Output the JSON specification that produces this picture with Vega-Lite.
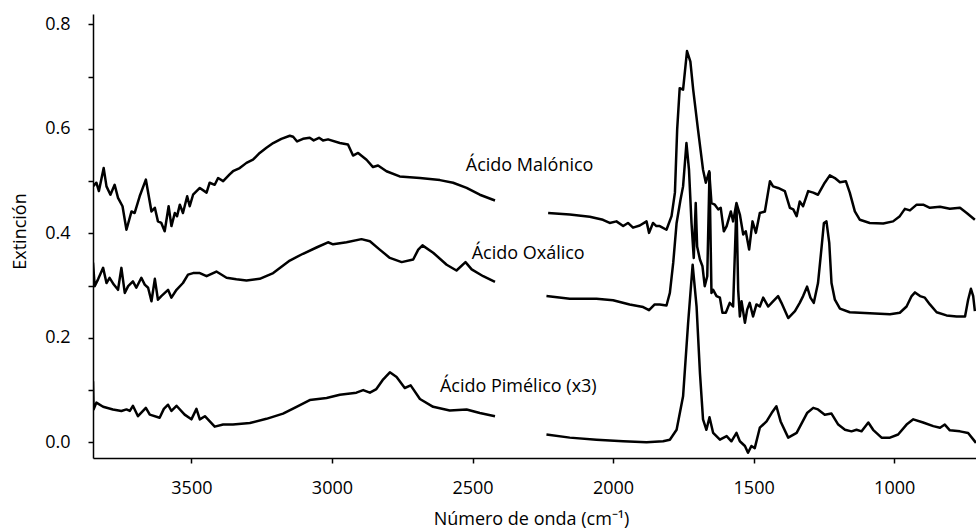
{
  "$schema": "https://vega.github.io/schema/vega-lite/v6.json",
  "width": 883,
  "height": 444,
  "autosize": {"type": "none"},
  "padding": {"left": 93, "top": 14, "right": 0, "bottom": 70},
  "background": "white",
  "config": {
    "view": {"stroke": null},
    "font": "Open Sans",
    "axis": {
      "grid": false,
      "domainColor": "black",
      "domainWidth": 1.5,
      "tickColor": "black",
      "tickWidth": 1.5,
      "tickSize": 5,
      "labelFont": "Open Sans",
      "labelFontSize": 18,
      "labelColor": "black",
      "titleFont": "Open Sans",
      "titleFontSize": 18,
      "titleFontWeight": "normal",
      "titleColor": "black"
    }
  },
  "layer": [
    {
      "data": {
        "values": [
          {"s":"Malónico","t":1,"wn":3850,"e":0.490},{"s":"Malónico","t":1,"wn":3838,"e":0.497},{"s":"Malónico","t":1,"wn":3829,"e":0.481},{"s":"Malónico","t":1,"wn":3812,"e":0.525},{"s":"Malónico","t":1,"wn":3802,"e":0.490},{"s":"Malónico","t":1,"wn":3788,"e":0.474},{"s":"Malónico","t":1,"wn":3773,"e":0.493},{"s":"Malónico","t":1,"wn":3761,"e":0.468},{"s":"Malónico","t":1,"wn":3745,"e":0.452},{"s":"Malónico","t":1,"wn":3731,"e":0.407},{"s":"Malónico","t":1,"wn":3713,"e":0.442},{"s":"Malónico","t":1,"wn":3702,"e":0.439},{"s":"Malónico","t":1,"wn":3684,"e":0.471},{"s":"Malónico","t":1,"wn":3662,"e":0.503},{"s":"Malónico","t":1,"wn":3642,"e":0.442},{"s":"Malónico","t":1,"wn":3630,"e":0.449},{"s":"Malónico","t":1,"wn":3619,"e":0.423},{"s":"Malónico","t":1,"wn":3607,"e":0.420},{"s":"Malónico","t":1,"wn":3595,"e":0.404},{"s":"Malónico","t":1,"wn":3581,"e":0.452},{"s":"Malónico","t":1,"wn":3571,"e":0.414},{"s":"Malónico","t":1,"wn":3559,"e":0.439},{"s":"Malónico","t":1,"wn":3551,"e":0.433},{"s":"Malónico","t":1,"wn":3541,"e":0.455},{"s":"Malónico","t":1,"wn":3530,"e":0.439},{"s":"Malónico","t":1,"wn":3515,"e":0.471},{"s":"Malónico","t":1,"wn":3506,"e":0.452},{"s":"Malónico","t":1,"wn":3494,"e":0.474},{"s":"Malónico","t":1,"wn":3470,"e":0.487},{"s":"Malónico","t":1,"wn":3446,"e":0.478},{"s":"Malónico","t":1,"wn":3435,"e":0.497},{"s":"Malónico","t":1,"wn":3417,"e":0.493},{"s":"Malónico","t":1,"wn":3405,"e":0.506},{"s":"Malónico","t":1,"wn":3387,"e":0.500},{"s":"Malónico","t":1,"wn":3364,"e":0.513},{"s":"Malónico","t":1,"wn":3352,"e":0.519},{"s":"Malónico","t":1,"wn":3328,"e":0.525},{"s":"Malónico","t":1,"wn":3304,"e":0.535},{"s":"Malónico","t":1,"wn":3281,"e":0.541},{"s":"Malónico","t":1,"wn":3257,"e":0.554},{"s":"Malónico","t":1,"wn":3233,"e":0.564},{"s":"Malónico","t":1,"wn":3209,"e":0.573},{"s":"Malónico","t":1,"wn":3180,"e":0.581},{"s":"Malónico","t":1,"wn":3150,"e":0.587},{"s":"Malónico","t":1,"wn":3138,"e":0.585},{"s":"Malónico","t":1,"wn":3124,"e":0.576},{"s":"Malónico","t":1,"wn":3103,"e":0.581},{"s":"Malónico","t":1,"wn":3079,"e":0.583},{"s":"Malónico","t":1,"wn":3065,"e":0.578},{"s":"Malónico","t":1,"wn":3046,"e":0.583},{"s":"Malónico","t":1,"wn":3032,"e":0.578},{"s":"Malónico","t":1,"wn":3014,"e":0.580},{"s":"Malónico","t":1,"wn":2972,"e":0.573},{"s":"Malónico","t":1,"wn":2943,"e":0.570},{"s":"Malónico","t":1,"wn":2925,"e":0.549},{"s":"Malónico","t":1,"wn":2907,"e":0.554},{"s":"Malónico","t":1,"wn":2877,"e":0.541},{"s":"Malónico","t":1,"wn":2854,"e":0.527},{"s":"Malónico","t":1,"wn":2836,"e":0.530},{"s":"Malónico","t":1,"wn":2806,"e":0.519},{"s":"Malónico","t":1,"wn":2759,"e":0.509},{"s":"Malónico","t":1,"wn":2687,"e":0.506},{"s":"Malónico","t":1,"wn":2616,"e":0.502},{"s":"Malónico","t":1,"wn":2569,"e":0.497},{"s":"Malónico","t":1,"wn":2521,"e":0.487},{"s":"Malónico","t":1,"wn":2474,"e":0.474},{"s":"Malónico","t":1,"wn":2420,"e":0.463},

          {"s":"Malónico","t":2,"wn":2231,"e":0.439},{"s":"Malónico","t":2,"wn":2154,"e":0.436},{"s":"Malónico","t":2,"wn":2083,"e":0.432},{"s":"Malónico","t":2,"wn":2036,"e":0.426},{"s":"Malónico","t":2,"wn":2012,"e":0.420},{"s":"Malónico","t":2,"wn":1988,"e":0.423},{"s":"Malónico","t":2,"wn":1964,"e":0.414},{"s":"Malónico","t":2,"wn":1947,"e":0.420},{"s":"Malónico","t":2,"wn":1929,"e":0.411},{"s":"Malónico","t":2,"wn":1905,"e":0.415},{"s":"Malónico","t":2,"wn":1881,"e":0.423},{"s":"Malónico","t":2,"wn":1872,"e":0.401},{"s":"Malónico","t":2,"wn":1858,"e":0.420},{"s":"Malónico","t":2,"wn":1846,"e":0.414},{"s":"Malónico","t":2,"wn":1834,"e":0.414},{"s":"Malónico","t":2,"wn":1810,"e":0.407},{"s":"Malónico","t":2,"wn":1792,"e":0.433},{"s":"Malónico","t":2,"wn":1780,"e":0.478},{"s":"Malónico","t":2,"wn":1772,"e":0.599},{"s":"Malónico","t":2,"wn":1763,"e":0.678},{"s":"Malónico","t":2,"wn":1751,"e":0.675},{"s":"Malónico","t":2,"wn":1737,"e":0.749},{"s":"Malónico","t":2,"wn":1725,"e":0.729},{"s":"Malónico","t":2,"wn":1715,"e":0.675},{"s":"Malónico","t":2,"wn":1698,"e":0.599},{"s":"Malónico","t":2,"wn":1680,"e":0.522},{"s":"Malónico","t":2,"wn":1670,"e":0.497},{"s":"Malónico","t":2,"wn":1658,"e":0.519},{"s":"Malónico","t":2,"wn":1650,"e":0.458},{"s":"Malónico","t":2,"wn":1638,"e":0.455},{"s":"Malónico","t":2,"wn":1626,"e":0.446},{"s":"Malónico","t":2,"wn":1617,"e":0.449},{"s":"Malónico","t":2,"wn":1606,"e":0.404},{"s":"Malónico","t":2,"wn":1596,"e":0.414},{"s":"Malónico","t":2,"wn":1581,"e":0.442},{"s":"Malónico","t":2,"wn":1573,"e":0.423},{"s":"Malónico","t":2,"wn":1561,"e":0.458},{"s":"Malónico","t":2,"wn":1549,"e":0.436},{"s":"Malónico","t":2,"wn":1537,"e":0.398},{"s":"Malónico","t":2,"wn":1528,"e":0.404},{"s":"Malónico","t":2,"wn":1516,"e":0.369},{"s":"Malónico","t":2,"wn":1504,"e":0.423},{"s":"Malónico","t":2,"wn":1492,"e":0.401},{"s":"Malónico","t":2,"wn":1478,"e":0.439},{"s":"Malónico","t":2,"wn":1460,"e":0.442},{"s":"Malónico","t":2,"wn":1442,"e":0.500},{"s":"Malónico","t":2,"wn":1431,"e":0.490},{"s":"Malónico","t":2,"wn":1413,"e":0.487},{"s":"Malónico","t":2,"wn":1389,"e":0.481},{"s":"Malónico","t":2,"wn":1371,"e":0.449},{"s":"Malónico","t":2,"wn":1359,"e":0.446},{"s":"Malónico","t":2,"wn":1347,"e":0.433},{"s":"Malónico","t":2,"wn":1336,"e":0.461},{"s":"Malónico","t":2,"wn":1324,"e":0.452},{"s":"Malónico","t":2,"wn":1306,"e":0.481},{"s":"Malónico","t":2,"wn":1288,"e":0.478},{"s":"Malónico","t":2,"wn":1271,"e":0.474},{"s":"Malónico","t":2,"wn":1247,"e":0.497},{"s":"Malónico","t":2,"wn":1229,"e":0.511},{"s":"Malónico","t":2,"wn":1211,"e":0.506},{"s":"Malónico","t":2,"wn":1193,"e":0.498},{"s":"Malónico","t":2,"wn":1172,"e":0.500},{"s":"Malónico","t":2,"wn":1158,"e":0.478},{"s":"Malónico","t":2,"wn":1140,"e":0.442},{"s":"Malónico","t":2,"wn":1122,"e":0.426},{"s":"Malónico","t":2,"wn":1087,"e":0.420},{"s":"Malónico","t":2,"wn":1039,"e":0.419},{"s":"Malónico","t":2,"wn":1004,"e":0.423},{"s":"Malónico","t":2,"wn":980,"e":0.433},{"s":"Malónico","t":2,"wn":962,"e":0.447},{"s":"Malónico","t":2,"wn":944,"e":0.444},{"s":"Malónico","t":2,"wn":920,"e":0.455},{"s":"Malónico","t":2,"wn":897,"e":0.455},{"s":"Malónico","t":2,"wn":873,"e":0.449},{"s":"Malónico","t":2,"wn":837,"e":0.451},{"s":"Malónico","t":2,"wn":802,"e":0.447},{"s":"Malónico","t":2,"wn":766,"e":0.449},{"s":"Malónico","t":2,"wn":742,"e":0.439},{"s":"Malónico","t":2,"wn":713,"e":0.426},

          {"s":"Oxálico","t":1,"wn":3850,"e":0.344},{"s":"Oxálico","t":1,"wn":3844,"e":0.299},{"s":"Oxálico","t":1,"wn":3832,"e":0.312},{"s":"Oxálico","t":1,"wn":3814,"e":0.334},{"s":"Oxálico","t":1,"wn":3802,"e":0.305},{"s":"Oxálico","t":1,"wn":3791,"e":0.315},{"s":"Oxálico","t":1,"wn":3776,"e":0.302},{"s":"Oxálico","t":1,"wn":3761,"e":0.292},{"s":"Oxálico","t":1,"wn":3749,"e":0.334},{"s":"Oxálico","t":1,"wn":3737,"e":0.286},{"s":"Oxálico","t":1,"wn":3725,"e":0.299},{"s":"Oxálico","t":1,"wn":3708,"e":0.308},{"s":"Oxálico","t":1,"wn":3696,"e":0.296},{"s":"Oxálico","t":1,"wn":3678,"e":0.315},{"s":"Oxálico","t":1,"wn":3666,"e":0.302},{"s":"Oxálico","t":1,"wn":3654,"e":0.296},{"s":"Oxálico","t":1,"wn":3642,"e":0.270},{"s":"Oxálico","t":1,"wn":3630,"e":0.313},{"s":"Oxálico","t":1,"wn":3619,"e":0.273},{"s":"Oxálico","t":1,"wn":3607,"e":0.280},{"s":"Oxálico","t":1,"wn":3583,"e":0.292},{"s":"Oxálico","t":1,"wn":3571,"e":0.277},{"s":"Oxálico","t":1,"wn":3553,"e":0.292},{"s":"Oxálico","t":1,"wn":3530,"e":0.305},{"s":"Oxálico","t":1,"wn":3512,"e":0.321},{"s":"Oxálico","t":1,"wn":3494,"e":0.324},{"s":"Oxálico","t":1,"wn":3470,"e":0.324},{"s":"Oxálico","t":1,"wn":3446,"e":0.318},{"s":"Oxálico","t":1,"wn":3411,"e":0.327},{"s":"Oxálico","t":1,"wn":3375,"e":0.315},{"s":"Oxálico","t":1,"wn":3340,"e":0.312},{"s":"Oxálico","t":1,"wn":3304,"e":0.310},{"s":"Oxálico","t":1,"wn":3257,"e":0.313},{"s":"Oxálico","t":1,"wn":3209,"e":0.324},{"s":"Oxálico","t":1,"wn":3150,"e":0.348},{"s":"Oxálico","t":1,"wn":3103,"e":0.361},{"s":"Oxálico","t":1,"wn":3055,"e":0.373},{"s":"Oxálico","t":1,"wn":3014,"e":0.383},{"s":"Oxálico","t":1,"wn":2996,"e":0.379},{"s":"Oxálico","t":1,"wn":2948,"e":0.383},{"s":"Oxálico","t":1,"wn":2895,"e":0.389},{"s":"Oxálico","t":1,"wn":2865,"e":0.385},{"s":"Oxálico","t":1,"wn":2830,"e":0.369},{"s":"Oxálico","t":1,"wn":2794,"e":0.353},{"s":"Oxálico","t":1,"wn":2752,"e":0.345},{"s":"Oxálico","t":1,"wn":2711,"e":0.350},{"s":"Oxálico","t":1,"wn":2693,"e":0.369},{"s":"Oxálico","t":1,"wn":2678,"e":0.377},{"s":"Oxálico","t":1,"wn":2640,"e":0.363},{"s":"Oxálico","t":1,"wn":2592,"e":0.340},{"s":"Oxálico","t":1,"wn":2557,"e":0.329},{"s":"Oxálico","t":1,"wn":2525,"e":0.345},{"s":"Oxálico","t":1,"wn":2503,"e":0.331},{"s":"Oxálico","t":1,"wn":2462,"e":0.318},{"s":"Oxálico","t":1,"wn":2420,"e":0.307},

          {"s":"Oxálico","t":2,"wn":2237,"e":0.280},{"s":"Oxálico","t":2,"wn":2154,"e":0.275},{"s":"Oxálico","t":2,"wn":2059,"e":0.275},{"s":"Oxálico","t":2,"wn":2000,"e":0.272},{"s":"Oxálico","t":2,"wn":1941,"e":0.264},{"s":"Oxálico","t":2,"wn":1893,"e":0.259},{"s":"Oxálico","t":2,"wn":1872,"e":0.253},{"s":"Oxálico","t":2,"wn":1852,"e":0.264},{"s":"Oxálico","t":2,"wn":1834,"e":0.264},{"s":"Oxálico","t":2,"wn":1810,"e":0.262},{"s":"Oxálico","t":2,"wn":1798,"e":0.286},{"s":"Oxálico","t":2,"wn":1786,"e":0.344},{"s":"Oxálico","t":2,"wn":1774,"e":0.420},{"s":"Oxálico","t":2,"wn":1760,"e":0.465},{"s":"Oxálico","t":2,"wn":1751,"e":0.490},{"s":"Oxálico","t":2,"wn":1739,"e":0.573},{"s":"Oxálico","t":2,"wn":1730,"e":0.522},{"s":"Oxálico","t":2,"wn":1721,"e":0.420},{"s":"Oxálico","t":2,"wn":1713,"e":0.353},{"s":"Oxálico","t":2,"wn":1706,"e":0.458},{"s":"Oxálico","t":2,"wn":1701,"e":0.375},{"s":"Oxálico","t":2,"wn":1691,"e":0.350},{"s":"Oxálico","t":2,"wn":1682,"e":0.337},{"s":"Oxálico","t":2,"wn":1674,"e":0.299},{"s":"Oxálico","t":2,"wn":1665,"e":0.318},{"s":"Oxálico","t":2,"wn":1657,"e":0.516},{"s":"Oxálico","t":2,"wn":1650,"e":0.286},{"s":"Oxálico","t":2,"wn":1644,"e":0.292},{"s":"Oxálico","t":2,"wn":1632,"e":0.280},{"s":"Oxálico","t":2,"wn":1620,"e":0.277},{"s":"Oxálico","t":2,"wn":1611,"e":0.248},{"s":"Oxálico","t":2,"wn":1599,"e":0.248},{"s":"Oxálico","t":2,"wn":1585,"e":0.267},{"s":"Oxálico","t":2,"wn":1573,"e":0.260},{"s":"Oxálico","t":2,"wn":1561,"e":0.455},{"s":"Oxálico","t":2,"wn":1555,"e":0.292},{"s":"Oxálico","t":2,"wn":1549,"e":0.241},{"s":"Oxálico","t":2,"wn":1543,"e":0.270},{"s":"Oxálico","t":2,"wn":1531,"e":0.229},{"s":"Oxálico","t":2,"wn":1523,"e":0.254},{"s":"Oxálico","t":2,"wn":1514,"e":0.267},{"s":"Oxálico","t":2,"wn":1502,"e":0.241},{"s":"Oxálico","t":2,"wn":1490,"e":0.264},{"s":"Oxálico","t":2,"wn":1478,"e":0.260},{"s":"Oxálico","t":2,"wn":1466,"e":0.277},{"s":"Oxálico","t":2,"wn":1448,"e":0.260},{"s":"Oxálico","t":2,"wn":1431,"e":0.270},{"s":"Oxálico","t":2,"wn":1413,"e":0.280},{"s":"Oxálico","t":2,"wn":1401,"e":0.267},{"s":"Oxálico","t":2,"wn":1377,"e":0.238},{"s":"Oxálico","t":2,"wn":1353,"e":0.251},{"s":"Oxálico","t":2,"wn":1336,"e":0.267},{"s":"Oxálico","t":2,"wn":1324,"e":0.280},{"s":"Oxálico","t":2,"wn":1310,"e":0.298},{"s":"Oxálico","t":2,"wn":1298,"e":0.277},{"s":"Oxálico","t":2,"wn":1286,"e":0.267},{"s":"Oxálico","t":2,"wn":1271,"e":0.305},{"s":"Oxálico","t":2,"wn":1258,"e":0.375},{"s":"Oxálico","t":2,"wn":1250,"e":0.420},{"s":"Oxálico","t":2,"wn":1241,"e":0.423},{"s":"Oxálico","t":2,"wn":1231,"e":0.382},{"s":"Oxálico","t":2,"wn":1223,"e":0.305},{"s":"Oxálico","t":2,"wn":1211,"e":0.273},{"s":"Oxálico","t":2,"wn":1193,"e":0.256},{"s":"Oxálico","t":2,"wn":1158,"e":0.249},{"s":"Oxálico","t":2,"wn":1087,"e":0.247},{"s":"Oxálico","t":2,"wn":1015,"e":0.245},{"s":"Oxálico","t":2,"wn":980,"e":0.248},{"s":"Oxálico","t":2,"wn":956,"e":0.260},{"s":"Oxálico","t":2,"wn":938,"e":0.280},{"s":"Oxálico","t":2,"wn":926,"e":0.287},{"s":"Oxálico","t":2,"wn":908,"e":0.280},{"s":"Oxálico","t":2,"wn":891,"e":0.277},{"s":"Oxálico","t":2,"wn":873,"e":0.264},{"s":"Oxálico","t":2,"wn":849,"e":0.249},{"s":"Oxálico","t":2,"wn":814,"e":0.243},{"s":"Oxálico","t":2,"wn":778,"e":0.241},{"s":"Oxálico","t":2,"wn":748,"e":0.241},{"s":"Oxálico","t":2,"wn":737,"e":0.273},{"s":"Oxálico","t":2,"wn":727,"e":0.294},{"s":"Oxálico","t":2,"wn":719,"e":0.280},{"s":"Oxálico","t":2,"wn":713,"e":0.251},

          {"s":"Pimélico","t":1,"wn":3850,"e":0.117},{"s":"Pimélico","t":1,"wn":3848,"e":0.063},{"s":"Pimélico","t":1,"wn":3838,"e":0.076},{"s":"Pimélico","t":1,"wn":3814,"e":0.068},{"s":"Pimélico","t":1,"wn":3779,"e":0.063},{"s":"Pimélico","t":1,"wn":3749,"e":0.060},{"s":"Pimélico","t":1,"wn":3731,"e":0.063},{"s":"Pimélico","t":1,"wn":3719,"e":0.060},{"s":"Pimélico","t":1,"wn":3708,"e":0.070},{"s":"Pimélico","t":1,"wn":3690,"e":0.050},{"s":"Pimélico","t":1,"wn":3662,"e":0.066},{"s":"Pimélico","t":1,"wn":3648,"e":0.053},{"s":"Pimélico","t":1,"wn":3613,"e":0.047},{"s":"Pimélico","t":1,"wn":3598,"e":0.064},{"s":"Pimélico","t":1,"wn":3583,"e":0.072},{"s":"Pimélico","t":1,"wn":3571,"e":0.060},{"s":"Pimélico","t":1,"wn":3553,"e":0.070},{"s":"Pimélico","t":1,"wn":3524,"e":0.053},{"s":"Pimélico","t":1,"wn":3500,"e":0.044},{"s":"Pimélico","t":1,"wn":3482,"e":0.064},{"s":"Pimélico","t":1,"wn":3470,"e":0.044},{"s":"Pimélico","t":1,"wn":3452,"e":0.050},{"s":"Pimélico","t":1,"wn":3417,"e":0.030},{"s":"Pimélico","t":1,"wn":3387,"e":0.034},{"s":"Pimélico","t":1,"wn":3352,"e":0.034},{"s":"Pimélico","t":1,"wn":3292,"e":0.037},{"s":"Pimélico","t":1,"wn":3233,"e":0.045},{"s":"Pimélico","t":1,"wn":3174,"e":0.055},{"s":"Pimélico","t":1,"wn":3126,"e":0.068},{"s":"Pimélico","t":1,"wn":3079,"e":0.081},{"s":"Pimélico","t":1,"wn":3019,"e":0.085},{"s":"Pimélico","t":1,"wn":2972,"e":0.091},{"s":"Pimélico","t":1,"wn":2913,"e":0.095},{"s":"Pimélico","t":1,"wn":2889,"e":0.100},{"s":"Pimélico","t":1,"wn":2865,"e":0.095},{"s":"Pimélico","t":1,"wn":2842,"e":0.102},{"s":"Pimélico","t":1,"wn":2820,"e":0.119},{"s":"Pimélico","t":1,"wn":2794,"e":0.134},{"s":"Pimélico","t":1,"wn":2770,"e":0.125},{"s":"Pimélico","t":1,"wn":2741,"e":0.104},{"s":"Pimélico","t":1,"wn":2720,"e":0.109},{"s":"Pimélico","t":1,"wn":2687,"e":0.083},{"s":"Pimélico","t":1,"wn":2640,"e":0.068},{"s":"Pimélico","t":1,"wn":2581,"e":0.061},{"s":"Pimélico","t":1,"wn":2521,"e":0.063},{"s":"Pimélico","t":1,"wn":2474,"e":0.056},{"s":"Pimélico","t":1,"wn":2420,"e":0.050},

          {"s":"Pimélico","t":2,"wn":2237,"e":0.015},{"s":"Pimélico","t":2,"wn":2154,"e":0.009},{"s":"Pimélico","t":2,"wn":2059,"e":0.005},{"s":"Pimélico","t":2,"wn":1964,"e":0.002},{"s":"Pimélico","t":2,"wn":1881,"e":0.000},{"s":"Pimélico","t":2,"wn":1822,"e":0.002},{"s":"Pimélico","t":2,"wn":1798,"e":0.005},{"s":"Pimélico","t":2,"wn":1774,"e":0.024},{"s":"Pimélico","t":2,"wn":1751,"e":0.088},{"s":"Pimélico","t":2,"wn":1733,"e":0.229},{"s":"Pimélico","t":2,"wn":1717,"e":0.340},{"s":"Pimélico","t":2,"wn":1703,"e":0.260},{"s":"Pimélico","t":2,"wn":1691,"e":0.133},{"s":"Pimélico","t":2,"wn":1680,"e":0.044},{"s":"Pimélico","t":2,"wn":1668,"e":0.024},{"s":"Pimélico","t":2,"wn":1657,"e":0.048},{"s":"Pimélico","t":2,"wn":1644,"e":0.018},{"s":"Pimélico","t":2,"wn":1620,"e":0.005},{"s":"Pimélico","t":2,"wn":1596,"e":0.012},{"s":"Pimélico","t":2,"wn":1579,"e":0.002},{"s":"Pimélico","t":2,"wn":1561,"e":0.018},{"s":"Pimélico","t":2,"wn":1549,"e":0.002},{"s":"Pimélico","t":2,"wn":1531,"e":-0.007},{"s":"Pimélico","t":2,"wn":1520,"e":-0.020},{"s":"Pimélico","t":2,"wn":1508,"e":-0.007},{"s":"Pimélico","t":2,"wn":1496,"e":-0.011},{"s":"Pimélico","t":2,"wn":1478,"e":0.028},{"s":"Pimélico","t":2,"wn":1454,"e":0.040},{"s":"Pimélico","t":2,"wn":1436,"e":0.056},{"s":"Pimélico","t":2,"wn":1419,"e":0.069},{"s":"Pimélico","t":2,"wn":1404,"e":0.040},{"s":"Pimélico","t":2,"wn":1377,"e":0.009},{"s":"Pimélico","t":2,"wn":1347,"e":0.018},{"s":"Pimélico","t":2,"wn":1310,"e":0.056},{"s":"Pimélico","t":2,"wn":1288,"e":0.066},{"s":"Pimélico","t":2,"wn":1271,"e":0.063},{"s":"Pimélico","t":2,"wn":1247,"e":0.053},{"s":"Pimélico","t":2,"wn":1223,"e":0.055},{"s":"Pimélico","t":2,"wn":1199,"e":0.034},{"s":"Pimélico","t":2,"wn":1175,"e":0.024},{"s":"Pimélico","t":2,"wn":1152,"e":0.021},{"s":"Pimélico","t":2,"wn":1134,"e":0.024},{"s":"Pimélico","t":2,"wn":1116,"e":0.021},{"s":"Pimélico","t":2,"wn":1092,"e":0.038},{"s":"Pimélico","t":2,"wn":1075,"e":0.024},{"s":"Pimélico","t":2,"wn":1045,"e":0.009},{"s":"Pimélico","t":2,"wn":1015,"e":0.009},{"s":"Pimélico","t":2,"wn":986,"e":0.015},{"s":"Pimélico","t":2,"wn":956,"e":0.034},{"s":"Pimélico","t":2,"wn":932,"e":0.044},{"s":"Pimélico","t":2,"wn":897,"e":0.038},{"s":"Pimélico","t":2,"wn":861,"e":0.031},{"s":"Pimélico","t":2,"wn":837,"e":0.028},{"s":"Pimélico","t":2,"wn":820,"e":0.034},{"s":"Pimélico","t":2,"wn":802,"e":0.023},{"s":"Pimélico","t":2,"wn":766,"e":0.021},{"s":"Pimélico","t":2,"wn":737,"e":0.018},{"s":"Pimélico","t":2,"wn":709,"e":-0.001}
        ]
      },
      "mark": {"type": "line", "color": "black", "strokeWidth": 2.5, "strokeJoin": "round", "clip": true},
      "encoding": {
        "x": {
          "field": "wn", "type": "quantitative",
          "scale": {"domain": [709, 3850], "reverse": true, "nice": false, "zero": false},
          "axis": {
            "title": "Número de onda (cm⁻¹)",
            "values": [3500, 3000, 2500, 2000, 1500, 1000],
            "format": "d",
            "labelPadding": 16,
            "titleX": 438,
            "titleY": 66,
            "titleBaseline": "alphabetic",
            "titleAlign": "center"
          }
        },
        "y": {
          "field": "e", "type": "quantitative",
          "scale": {"domain": [-0.03, 0.82], "nice": false, "zero": false},
          "axis": {
            "title": "Extinción",
            "values": [0, 0.1, 0.2, 0.3, 0.4, 0.5, 0.6, 0.7, 0.8],
            "labelExpr": "round(datum.value*10) % 2 == 0 ? format(datum.value, '.1f') : ''",
            "labelPadding": 18,
            "titleX": -68,
            "titleY": 217,
            "titleAngle": 270,
            "titleBaseline": "alphabetic",
            "titleAlign": "center"
          }
        },
        "detail": [{"field": "s"}, {"field": "t"}]
      }
    },
    {
      "data": {
        "values": [
          {"label": "Ácido Malónico", "wn": 2524, "e": 0.519},
          {"label": "Ácido Oxálico", "wn": 2503, "e": 0.351},
          {"label": "Ácido Pimélico (x3)", "wn": 2616, "e": 0.096}
        ]
      },
      "mark": {"type": "text", "align": "left", "baseline": "alphabetic", "font": "Open Sans", "fontSize": 18, "color": "black"},
      "encoding": {
        "x": {"field": "wn", "type": "quantitative"},
        "y": {"field": "e", "type": "quantitative"},
        "text": {"field": "label"}
      }
    }
  ]
}
